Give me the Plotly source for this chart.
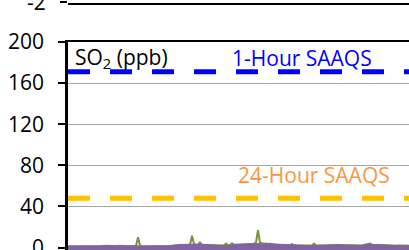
import plotly.graph_objects as go

# ---- data (ppb) ----
purple_so2 = [
    1.6, 1.5, 1.6, 1.7, 1.6, 1.5, 1.6, 1.6, 1.7, 1.6, 1.5, 1.6, 1.7, 1.6, 1.6, 1.5, 1.6,
    2.0, 2.2, 2.3, 2.2, 2.0, 1.8, 1.7, 1.8, 2.1, 2.3, 2.2, 2.0, 1.8, 1.7, 1.6,
    1.6, 1.7, 1.6, 1.8, 1.7, 1.6, 1.6, 1.7, 1.6, 1.5, 1.6, 1.7, 1.6, 1.6, 1.7, 1.6, 1.5, 1.6, 1.7, 1.8, 2.0, 2.4,
    2.8, 3.0, 3.1, 3.0, 2.9, 3.0, 3.1, 3.2, 3.3, 3.1, 3.0, 2.9, 3.1, 3.2, 3.0, 2.9, 3.0, 2.8, 2.5,
    2.2, 2.0, 1.9, 2.0, 2.1, 2.0, 1.9, 2.0, 2.2, 2.5,
    2.8, 3.0, 2.9, 3.1, 3.0, 2.9, 3.2, 3.3, 3.4, 3.6, 3.8,
    4.0, 4.2, 4.3, 4.1, 3.9, 3.8, 3.5,
    3.2, 3.0, 2.9, 2.8, 2.9, 3.0, 2.8, 2.7, 2.6, 2.4, 2.2,
    2.0, 2.1, 2.0, 1.9, 2.0, 2.1, 2.0, 1.9, 1.9, 2.0, 2.1, 2.0, 1.9, 2.0, 2.0, 1.9, 2.0, 2.1, 2.2, 2.4,
    2.6, 2.7, 2.6, 2.7, 2.6, 2.5, 2.4, 2.2,
    2.0, 2.1, 2.0, 1.9, 2.0, 2.0, 2.1, 2.3, 2.6,
    2.8, 3.0, 3.1, 3.0, 2.9, 2.8, 2.6, 2.3,
    2.1, 2.0, 2.0, 2.1, 2.0, 1.9, 2.0, 2.0, 2.1, 2.0, 1.9, 2.0, 2.1, 2.0, 2.0,
]
green_so2 = [
    1.0, 1.1, 1.0, 0.9, 1.0, 1.1, 1.0, 1.0, 0.9, 1.0, 1.1, 1.0, 1.0, 0.9, 1.0, 1.0, 1.1,
    1.2, 1.3, 1.2, 1.1, 1.2, 1.0, 1.1, 1.2, 1.3, 1.2, 1.1, 1.0, 1.1, 1.0, 1.0,
    1.0, 1.1, 1.5, 10.0, 2.0, 1.1, 1.0, 1.0, 1.1, 1.0, 0.9, 1.0, 1.0, 1.1, 1.0, 1.0, 1.1, 1.2, 1.3, 1.5, 1.8, 2.0,
    2.2, 2.4, 2.3, 2.2, 2.4, 2.5, 2.3, 2.8, 11.5, 3.5, 2.4, 3.0, 5.0, 2.6, 2.4, 2.3, 2.2, 2.1, 2.0,
    1.8, 1.7, 1.8, 1.9, 1.8, 2.0, 3.8, 2.2, 2.5, 4.2,
    2.6, 2.7, 2.8, 2.6, 2.8, 3.0, 3.1, 3.2, 3.3, 3.5, 3.6,
    5.0, 17.0, 4.5, 3.8, 3.6, 4.0, 3.4,
    3.6, 3.0, 2.8, 2.6, 2.7, 2.8, 2.6, 2.5, 2.4, 2.2, 2.0,
    3.5, 2.0, 1.9, 1.8, 1.9, 2.0, 1.9, 1.8, 1.8, 1.9, 1.9, 3.8, 1.9, 1.8, 1.9, 1.9, 1.8, 1.9, 2.0, 2.2,
    2.4, 2.5, 2.4, 2.5, 2.4, 2.3, 2.2, 2.0,
    1.8, 1.9, 1.8, 1.7, 1.8, 1.8, 1.9, 2.1, 2.4,
    2.6, 2.8, 3.8, 2.8, 2.7, 2.6, 2.4, 2.1,
    1.9, 1.8, 1.8, 1.9, 1.8, 1.7, 1.8, 1.8, 1.9, 1.8, 1.7, 1.8, 1.9, 1.8, 1.8,
]
saaqs_1h = 171
saaqs_24h = 48
y_ticks = [0, 40, 80, 120, 160, 200]
upper_ticks = [-2]
upper_tick_labels = ["-2"]

x = list(range(len(purple_so2)))
x_end = 170.5
y_floor = -5

FONT = "Open Sans"
PURPLE = "#8064A2"
GREEN = "#77933C"
BLUE = "#0000FF"
GOLD = "#FFC000"
ORANGE_TXT = "#F79646"

fig = go.Figure()
fig.add_trace(go.Scatter(x=x, y=green_so2, mode="lines",
                         line=dict(color=GREEN, width=2), showlegend=False, hoverinfo="skip"))
fig.add_trace(go.Scatter(x=x, y=[y_floor] * len(x), mode="lines",
                         line=dict(width=0), showlegend=False, hoverinfo="skip"))
fig.add_trace(go.Scatter(x=x, y=purple_so2, mode="lines", fill="tonexty",
                         fillcolor=PURPLE, line=dict(color=PURPLE, width=1),
                         showlegend=False, hoverinfo="skip"))
fig.add_trace(go.Scatter(x=[0, x_end], y=[saaqs_1h, saaqs_1h], mode="lines",
                         line=dict(color=BLUE, width=5, dash="22px,20px"),
                         showlegend=False, hoverinfo="skip"))
fig.add_trace(go.Scatter(x=[0, x_end], y=[saaqs_24h, saaqs_24h], mode="lines",
                         line=dict(color=GOLD, width=5, dash="22px,20px"),
                         showlegend=False, hoverinfo="skip"))
# upper (cropped) chart axis
fig.add_trace(go.Scatter(x=[0], y=[-10], xaxis="x2", yaxis="y2", mode="markers",
                         marker=dict(opacity=0), showlegend=False, hoverinfo="skip"))

fig.update_layout(
    width=409, height=250,
    margin=dict(l=68, r=0, t=0, b=0, autoexpand=False),
    paper_bgcolor="white", plot_bgcolor="white",
    font=dict(family=FONT, size=21, color="black"),
    xaxis=dict(domain=[0, 1], anchor="y", range=[0, x_end], showline=True, mirror=True,
               linecolor="black", linewidth=1.5, showgrid=False, zeroline=False,
               showticklabels=False, ticks="", automargin=False),
    yaxis=dict(domain=[0, 0.832], anchor="x", range=[-2.4, 200], tickvals=y_ticks,
               ticks="outside", ticklen=7, tickwidth=1.5, tickcolor="black",
               showline=True, linecolor="black", linewidth=2.5,
               showgrid=True, gridcolor="#A6A6A6", gridwidth=1, zeroline=False,
               ticklabelstandoff=10, automargin=False, ticklabeloverflow="allow",
               tickfont=dict(family=FONT, size=21, color="black")),
    xaxis2=dict(domain=[0, 1], anchor="y2", range=[0, x_end], showline=True,
                linecolor="black", linewidth=1.5, showgrid=False, zeroline=False,
                showticklabels=False, ticks="", automargin=False),
    yaxis2=dict(domain=[0.99, 1], anchor="x2", range=[-2.05, 0], tickvals=upper_ticks,
                ticktext=upper_tick_labels,
                ticks="outside", ticklen=7, tickwidth=1.5, tickcolor="black",
                showline=False, showgrid=False, zeroline=False,
                ticklabelstandoff=10, automargin=False, ticklabeloverflow="allow",
                tickfont=dict(family=FONT, size=21, color="black")),
    annotations=[
        dict(x=2.5, y=184.5, xref="x", yref="y", text="SO<sub>2</sub> (ppb)",
             showarrow=False, xanchor="left", yanchor="middle",
             font=dict(family=FONT, size=21, color="black")),
        dict(x=117, y=184.5, xref="x", yref="y", text="1-Hour SAAQS",
             showarrow=False, xanchor="center", yanchor="middle",
             font=dict(family=FONT, size=21, color=BLUE)),
        dict(x=123, y=70.5, xref="x", yref="y", text="24-Hour SAAQS",
             showarrow=False, xanchor="center", yanchor="middle",
             font=dict(family=FONT, size=21, color=ORANGE_TXT)),
    ],
)

fig.write_html(
    "out.html",
    config={"displayModeBar": False},
    post_script="document.body.style.margin='0';document.documentElement.style.margin='0';",
)
